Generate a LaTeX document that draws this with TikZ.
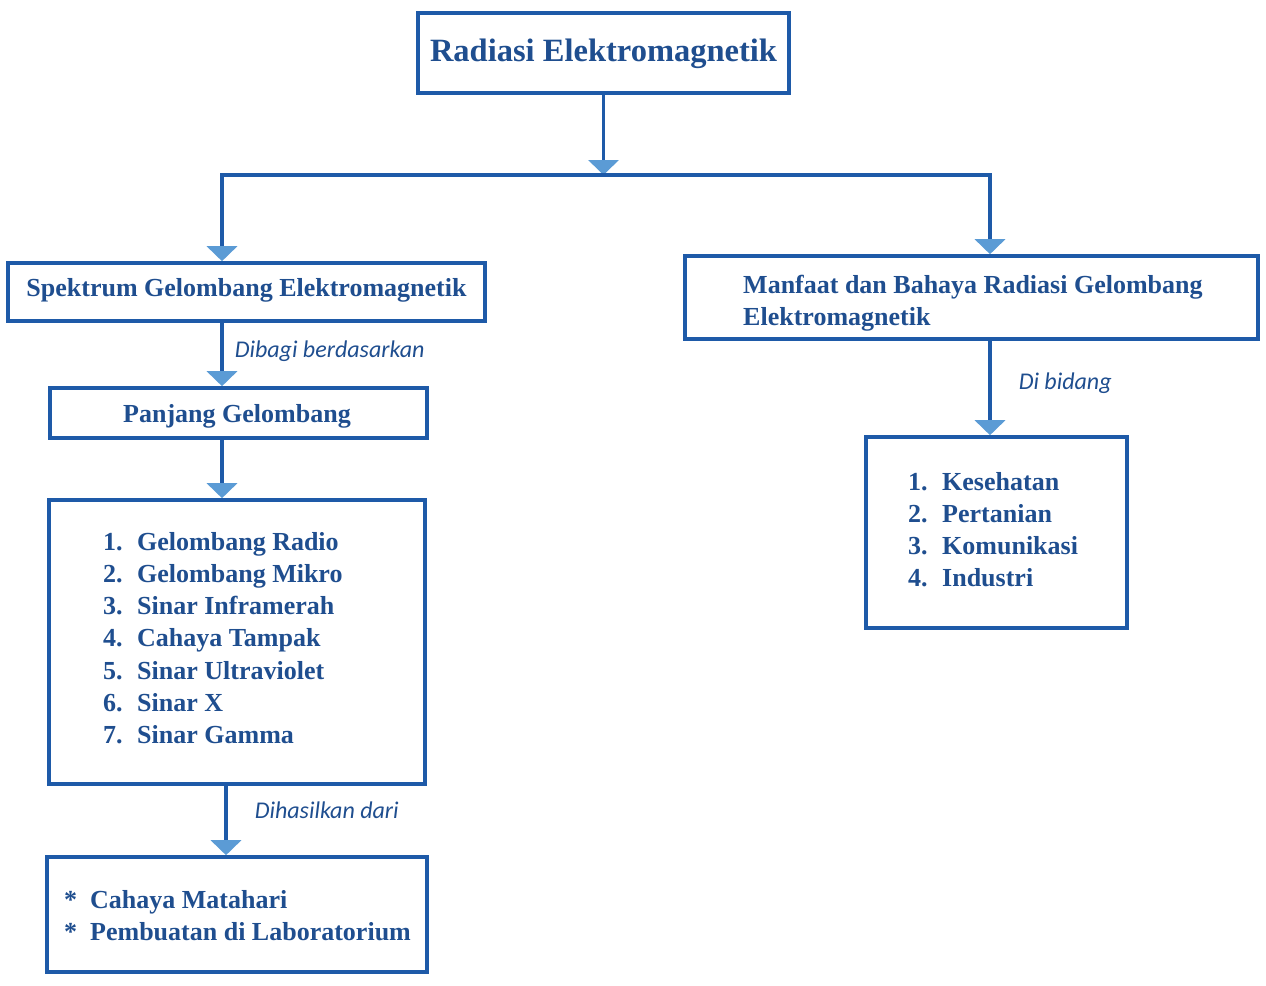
\documentclass[tikz,border=0pt]{standalone}
\usepackage{fontspec}
\setmainfont{Liberation Serif}
\newfontfamily\labfont{Carlito}
\usetikzlibrary{arrows.meta}
\definecolor{bordc}{HTML}{1E5AA8}
\definecolor{txtc}{HTML}{1F4E8F}
\definecolor{headc}{HTML}{5B9BD5}
\tikzset{
  boxnode/.style={draw=bordc, line width=3.6pt, inner sep=0pt, fill=white},
  conn/.style={draw=bordc, line width=3.6pt, -{Triangle[width=30pt,length=15pt,color=headc]}},
  plainline/.style={draw=bordc, line width=3.6pt},
  maintxt/.style={text=txtc, font=\fontsize{26}{32}\selectfont\bfseries, inner sep=0pt, anchor=base west},
  titletxt/.style={text=txtc, font=\fontsize{32.5}{38}\selectfont\bfseries, inner sep=0pt, anchor=base},
  labtxt/.style={text=txtc, font=\fontsize{24}{28}\selectfont\labfont\itshape, inner sep=0pt, anchor=base west}
}
\begin{document}
\begin{tikzpicture}[x=1pt,y=-1pt]
\useasboundingbox (0,0) rectangle (1266,985);
% boxes
\node[boxnode, minimum width=371pt, minimum height=80pt] (title) at (603.5,53) {};
\node[boxnode, minimum width=477pt, minimum height=58pt] (spek) at (246.5,292) {};
\node[boxnode, minimum width=377pt, minimum height=50pt] (panj) at (238.5,413) {};
\node[boxnode, minimum width=376pt, minimum height=284pt] (list) at (237,642) {};
\node[boxnode, minimum width=380pt, minimum height=115pt] (src) at (237,914.5) {};
\node[boxnode, minimum width=573pt, minimum height=83pt] (manf) at (971.5,297.5) {};
\node[boxnode, minimum width=261pt, minimum height=191pt] (rlist) at (996.5,532.5) {};
% texts
\node[titletxt] (titleT) at (603.5,61) {Radiasi Elektromagnetik};
\node[maintxt, anchor=base] (spekT) at (246.5,296) {Spektrum Gelombang Elektromagnetik};
\node[maintxt, anchor=base] (panjT) at (237,422) {Panjang Gelombang};
\node[maintxt] (manfT1) at (743,293) {Manfaat dan Bahaya Radiasi Gelombang};
\node[maintxt] (manfT2) at (743,325) {Elektromagnetik};
\foreach \n/\t [count=\i from 0] in {1/Gelombang Radio,2/Gelombang Mikro,3/Sinar Inframerah,4/Cahaya Tampak,5/Sinar Ultraviolet,6/Sinar X,7/Sinar Gamma}{
  \node[maintxt] (ln\n) at (103,550+32.3*\i) {\n.};
  \node[maintxt] (lt\n) at (137,550+32.3*\i) {\t};
}
\foreach \n/\t [count=\i from 0] in {1/Kesehatan,2/Pertanian,3/Komunikasi,4/Industri}{
  \node[maintxt] (rn\n) at (908,490+32*\i) {\n.};
  \node[maintxt] (rt\n) at (942,490+32*\i) {\t};
}
\node[maintxt] (s1) at (64,908) {*};
\node[maintxt] (st1) at (90,908) {Cahaya Matahari};
\node[maintxt] (s2) at (64,940) {*};
\node[maintxt] (st2) at (90,940) {Pembuatan di Laboratorium};
% connectors
\coordinate (j) at (603.5,175);
\coordinate (jl) at (222,175);
\coordinate (jr) at (990,175);
\draw[conn] (title.south) -- (j);
\draw[plainline, line cap=rect] (jl) -- (jr);
\draw[conn] (jl) -- (spek.north -| jl);
\draw[conn] (jr) -- (manf.north -| jr);
\draw[conn] (spek.south -| jl) -- node[labtxt, pos=0.5, anchor=base west, xshift=11pt, yshift=-3pt] (lab1) {Dibagi berdasarkan} (panj.north -| jl);
\draw[conn] (panj.south -| jl) -- (list.north -| jl);
\coordinate (k) at (226,0);
\draw[conn] (list.south -| k) -- node[labtxt, pos=0.5, anchor=base west, xshift=27pt, yshift=2pt] (lab2) {Dihasilkan dari} (src.north -| k);
\draw[conn] (manf.south -| jr) -- node[labtxt, pos=0.5, anchor=base west, xshift=27pt, yshift=-1pt] (lab3) {Di bidang} (rlist.north -| jr);
\end{tikzpicture}
\end{document}
